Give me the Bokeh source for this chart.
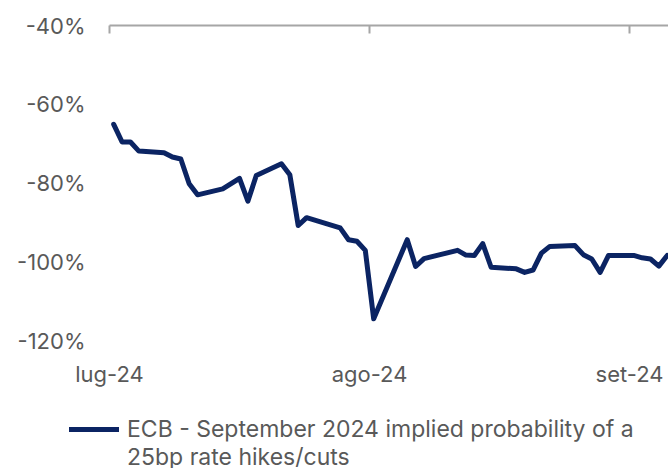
import pandas as pd
from bokeh.plotting import figure
from bokeh.layouts import column, row
from bokeh.models import (Range1d, LinearAxis, FixedTicker, PrintfTickFormatter,
                          Legend, LegendItem, ColumnDataSource)
from bokeh.embed import file_html
from bokeh.resources import INLINE

# ---- data ----
dates = ["2024-07-01", "2024-07-02", "2024-07-03", "2024-07-04", "2024-07-07",
         "2024-07-08", "2024-07-09", "2024-07-10", "2024-07-11", "2024-07-14",
         "2024-07-16", "2024-07-17", "2024-07-18", "2024-07-21", "2024-07-22",
         "2024-07-23", "2024-07-24", "2024-07-28", "2024-07-29", "2024-07-30",
         "2024-07-31", "2024-08-01", "2024-08-05", "2024-08-06", "2024-08-07",
         "2024-08-11", "2024-08-12", "2024-08-13", "2024-08-14", "2024-08-15",
         "2024-08-18", "2024-08-19", "2024-08-20", "2024-08-21", "2024-08-22",
         "2024-08-25", "2024-08-26", "2024-08-27", "2024-08-28", "2024-08-29",
         "2024-09-01", "2024-09-02", "2024-09-03", "2024-09-04", "2024-09-05"]
probability = [-65.1, -69.6, -69.6, -71.9, -72.3,
               -73.4, -73.9, -80.2, -83.0, -81.5,
               -78.8, -84.6, -78.1, -75.1, -77.9,
               -90.8, -88.8, -91.4, -94.4, -94.8,
               -97.1, -114.5, -94.4, -101.2, -99.2,
               -97.1, -98.3, -98.4, -95.4, -101.4,
               -101.8, -102.7, -102.1, -97.8, -96.1,
               -95.9, -98.2, -99.3, -102.7, -98.4,
               -98.4, -99.0, -99.3, -101.1, -98.4]
y_ticks = [-120, -100, -80, -60, -40]
month_ticks = ["2024-07-01", "2024-08-01", "2024-09-01"]
month_labels = ["lug-24", "ago-24", "set-24"]
series_label_1 = "ECB - September 2024 implied probability of a"
series_label_2 = "25bp rate hikes/cuts"

# ---- styling ----
FONT = "Inter"
FS = "22px"
LEG_FS = "23px"
TXT = "#595959"
NAVY = "#0b2463"
AXIS_GREY = "#a6a6a6"

origin = pd.Timestamp("2024-07-01")
xs = [(pd.Timestamp(d) - origin).days + 0.5 for d in dates]   # points between tick marks
tick_x = [(pd.Timestamp(d) - origin).days for d in month_ticks]

p = figure(width=668, height=400, output_backend="svg", toolbar_location=None,
           x_range=Range1d(0, 66.65), y_range=Range1d(-120, -40),
           min_border_left=109, min_border_top=25, min_border_right=0,
           min_border_bottom=60)
p.outline_line_color = None
p.xgrid.visible = False
p.ygrid.visible = False
p.background_fill_color = "white"
p.border_fill_color = "white"

src = ColumnDataSource(dict(x=xs, y=probability))
p.line("x", "y", source=src, line_color=NAVY, line_width=5,
       line_join="round", line_cap="round")

# bottom axis: labels only
xa = p.xaxis[0]
xa.ticker = FixedTicker(ticks=tick_x)
xa.major_label_overrides = {t: lab for t, lab in zip(tick_x, month_labels)}
xa.axis_line_color = None
xa.major_tick_line_color = None
xa.minor_tick_line_color = None
xa.major_label_text_font = FONT
xa.major_label_text_font_size = FS
xa.major_label_text_color = TXT
xa.major_label_standoff = 14

# top axis line with inward ticks
top = LinearAxis(ticker=FixedTicker(ticks=tick_x))
top.axis_line_color = AXIS_GREY
top.axis_line_width = 2
top.major_tick_line_color = AXIS_GREY
top.major_tick_line_width = 2
top.major_tick_in = 8
top.major_tick_out = 0
top.minor_tick_line_color = None
top.major_label_text_font_size = "0px"
top.major_label_standoff = 0
p.add_layout(top, "above")

# left axis: labels only
ya = p.yaxis[0]
ya.ticker = FixedTicker(ticks=y_ticks)
ya.formatter = PrintfTickFormatter(format="%d%%")
ya.axis_line_color = None
ya.major_tick_line_color = None
ya.minor_tick_line_color = None
ya.major_label_text_font = FONT
ya.major_label_text_font_size = FS
ya.major_label_text_color = TXT
ya.major_label_standoff = 18

# ---- legend strip below the chart ----
lg = figure(width=668, height=68, output_backend="svg", toolbar_location=None,
            x_range=Range1d(0, 1), y_range=Range1d(0, 1),
            x_axis_type=None, y_axis_type=None,
            min_border_left=63, min_border_top=9, min_border_right=0,
            min_border_bottom=0)
lg.outline_line_color = None
lg.xgrid.visible = False
lg.ygrid.visible = False
lg.border_fill_color = "white"
lg.background_fill_color = "white"
# same series, out of this strip's view: only used for the legend key
r_key = lg.line("x", "y", source=src, line_color=NAVY, line_width=5,
                line_join="round", line_cap="round")
r_blank = lg.line("x", "y", source=src, line_alpha=0)

legend = Legend(items=[LegendItem(label=series_label_1, renderers=[r_key]),
                       LegendItem(label=series_label_2, renderers=[r_blank])],
                location="top_left", orientation="vertical")
legend.padding = 6
legend.margin = 0
legend.spacing = 0
legend.glyph_width = 50
legend.glyph_height = 28
legend.label_height = 28
legend.label_standoff = 8
legend.label_text_font = FONT
legend.label_text_font_size = LEG_FS
legend.label_text_color = TXT
legend.border_line_alpha = 0
legend.background_fill_alpha = 0
lg.add_layout(legend)

layout = column(p, row(lg), spacing=0)
open("out.html", "w").write(file_html(layout, INLINE))
